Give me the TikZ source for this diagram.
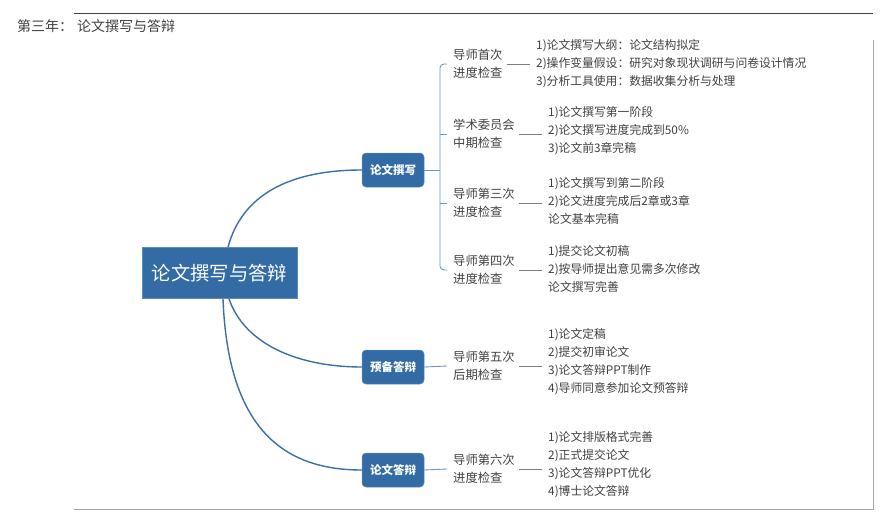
\documentclass[tikz,border=0pt]{standalone}
\usepackage{fontspec}
\setmainfont{Noto Sans CJK SC}
\usetikzlibrary{calc}
\definecolor{boxblue}{HTML}{336BA5}
\definecolor{boxedge}{HTML}{5A8CC4}
\definecolor{curveblue}{HTML}{3A6FA8}
\definecolor{brblue}{HTML}{6A95C6}
\definecolor{txtgray}{HTML}{404040}
\definecolor{dashgray}{HTML}{7F7F7F}
\definecolor{framedark}{HTML}{404040}
\definecolor{framelight}{HTML}{A6A6A6}
\begin{document}
\begin{tikzpicture}[x=1pt,y=-1pt,
  rootbox/.style={fill=boxblue, draw=boxedge, line width=0.6pt, text=white,
    font=\fontsize{19.3}{22}\selectfont, minimum width=155pt, minimum height=51pt, inner sep=0pt},
  branchbox/.style={fill=boxblue, draw=boxedge, line width=0.5pt, rounded corners=4pt, text=white,
    font=\fontsize{11.5}{13}\selectfont\bfseries, minimum width=62pt, minimum height=34pt, inner sep=0pt},
  sublabel/.style={text=txtgray, font=\fontsize{12.3}{18}\selectfont, align=left, anchor=west, inner sep=0pt},
  detail/.style={text=txtgray, font=\fontsize{11.8}{18}\selectfont, align=left, anchor=west, inner sep=0pt},
  maincurve/.style={draw=curveblue, line width=1.4pt},
  bracketline/.style={draw=brblue, line width=0.9pt},
  dashline/.style={draw=dashgray, line width=0.8pt, shorten <=4pt, shorten >=6pt}
]
\useasboundingbox (0,0) rectangle (892,522);

% frame
\draw[framedark, line width=0.9pt] (74,13) -- (873,13);
\draw[framelight, line width=0.9pt] (873,40) -- (873,509) -- (74,509);

% title
\node[anchor=west, inner sep=0pt, text=txtgray, font=\fontsize{14}{16}\selectfont] (title) at (17,26) {第三年：\hspace{4pt}论文撰写与答辩};

% root and branches
\node[rootbox] (root) at (219.5,273) {论文撰写与答辩};
\node[branchbox] (lw) at (393,170) {论文撰写};
\node[branchbox] (yb) at (393,367) {预备答辩};
\node[branchbox] (lda) at (393,470) {论文答辩};

\draw[maincurve] ($(root.north)+(8.5,0)$) .. controls ($(root.north)+(22.5,-52.5)$) and ($(lw.west)+(-72,0)$) .. (lw.west);
\draw[maincurve] ($(root.south)+(9.5,0)$) .. controls ($(root.south)+(25.5,46.5)$) and ($(yb.west)+(-62,0)$) .. (yb.west);
\draw[maincurve] ($(root.south)+(3.5,0)$) .. controls ($(root.south)+(8.5,131.5)$) and ($(lda.west)+(-77,0)$) .. (lda.west);

% sub labels
\node[sublabel] (s1) at (453,64) {导师首次\\进度检查};
\node[sublabel] (s2) at (453,134) {学术委员会\\中期检查};
\node[sublabel] (s3) at (453,203) {导师第三次\\进度检查};
\node[sublabel] (s4) at (453,270) {导师第四次\\进度检查};
\node[sublabel] (s5) at (453,366) {导师第五次\\后期检查};
\node[sublabel] (s6) at (453,469) {导师第六次\\进度检查};

% details
\node[detail] (d1) at (536,63.5) {1)论文撰写大纲：论文结构拟定\\2)操作变量假设：研究对象现状调研与问卷设计情况\\3)分析工具使用：数据收集分析与处理};
\node[detail] (d2) at (548,131) {1)论文撰写第一阶段\\2)论文撰写进度完成到50\%\\3)论文前3章完稿};
\node[detail] (d3) at (548,201) {1)论文撰写到第二阶段\\2)论文进度完成后2章或3章\\论文基本完稿};
\node[detail] (d4) at (548,269) {1)提交论文初稿\\2)按导师提出意见需多次修改\\论文撰写完善};
\node[detail] (d5) at (548,361.5) {1)论文定稿\\2)提交初审论文\\3)论文答辩PPT制作\\4)导师同意参加论文预答辩};
\node[detail] (d6) at (548,465) {1)论文排版格式完善\\2)正式提交论文\\3)论文答辩PPT优化\\4)博士论文答辩};

% bracket for 论文撰写
\coordinate (bj) at (440,170);
\coordinate (t1) at ($(s1.west)+(-6,0)$);
\coordinate (t2) at ($(s2.west)+(-6,0)$);
\coordinate (t3) at ($(s3.west)+(-6,0)$);
\coordinate (t4) at ($(s4.west)+(-6,0)$);
\draw[bracketline] (lw.east) -- (bj);
\draw[bracketline, rounded corners=4pt] (t1) -- (t1 -| bj) -- (t4 -| bj) -- (t4);
\draw[bracketline] (t2 -| bj) -- (t2);
\draw[bracketline] (t3 -| bj) -- (t3);

% other branch links
\draw[bracketline] (yb.east) -- ($(s5.west)+(-6,0)$);
\draw[bracketline] (lda.east) -- ($(s6.west)+(-6,0)$);

% dash connectors
\foreach \i in {1,...,6} {
  \draw[dashline] (s\i.east) -- (s\i.east -| d\i.west);
}
\end{tikzpicture}
\end{document}
